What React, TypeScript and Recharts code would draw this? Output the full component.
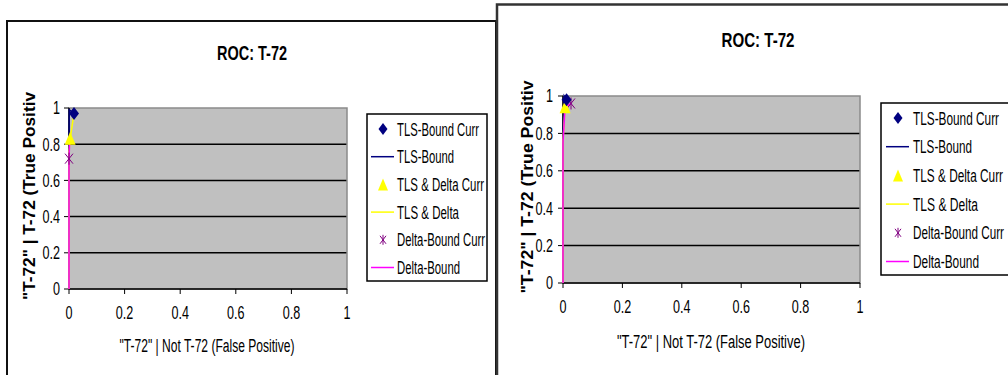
import { ScatterChart, Scatter, XAxis, YAxis, CartesianGrid, ReferenceArea } from 'recharts'

const TICKS = [0, 0.2, 0.4, 0.6, 0.8, 1]
const GRID_VALUES = [0.2, 0.4, 0.6, 0.8]
const TITLE = 'ROC: T-72'
const X_LABEL = '"T-72" | Not T-72 (False Positive)'
const Y_LABEL = '"T-72" | T-72 (True Positiv'
const LEGEND_NAMES = ['TLS-Bound Curr', 'TLS-Bound', 'TLS & Delta Curr', 'TLS & Delta', 'Delta-Bound Curr', 'Delta-Bound']

// left chart
const leftTlsBound = [{ x: 0, y: 0 }, { x: 0, y: 0.84 }, { x: 0.001, y: 0.99 }, { x: 0.018, y: 0.97 }]
const leftTlsDelta = [{ x: 0, y: 0 }, { x: 0, y: 0.76 }, { x: 0.004, y: 0.83 }, { x: 0.018, y: 0.97 }]
const leftDeltaBound = [{ x: 0, y: 0 }, { x: 0, y: 0.72 }, { x: 0.002, y: 0.8 }]
const leftTlsBoundCurr = [{ x: 0.018, y: 0.97 }]
const leftTlsDeltaCurr = [{ x: 0.004, y: 0.83 }]
const leftDeltaBoundCurr = [{ x: 0, y: 0.72 }]

// right chart
const rightTlsBound = [{ x: 0, y: 0 }, { x: 0, y: 0.77 }, { x: 0.004, y: 1 }, { x: 0.012, y: 0.98 }]
const rightTlsDelta = [{ x: 0, y: 0 }, { x: 0, y: 0.76 }, { x: 0.007, y: 0.94 }, { x: 0.012, y: 0.98 }]
const rightDeltaBound = [{ x: 0, y: 0 }, { x: 0, y: 0.75 }, { x: 0.007, y: 0.94 }, { x: 0.027, y: 0.96 }]
const rightTlsBoundCurr = [{ x: 0.012, y: 0.98 }]
const rightTlsDeltaCurr = [{ x: 0.007, y: 0.94 }]
const rightDeltaBoundCurr = [{ x: 0.027, y: 0.96 }]

const FONT = "'Liberation Sans', Arial, sans-serif"
const NAVY = '#000080'
const YELLOW = '#ffff00'
const MAGENTA = '#ff00ff'
const PURPLE = '#800080'

const Diamond = ({ cx, cy }: any) => (
  <polygon points={`${cx},${cy - 6.5} ${cx + 5},${cy} ${cx},${cy + 6.5} ${cx - 5},${cy}`} fill={NAVY} />
)
const Triangle = ({ cx, cy }: any) => (
  <polygon points={`${cx},${cy - 7} ${cx + 5.5},${cy + 6} ${cx - 5.5},${cy + 6}`} fill={YELLOW} />
)
const Star = ({ cx, cy }: any) => (
  <g stroke={PURPLE} strokeWidth={1}>
    <line x1={cx - 4} y1={cy - 5} x2={cx + 4} y2={cy + 5} />
    <line x1={cx + 4} y1={cy - 5} x2={cx - 4} y2={cy + 5} />
    <line x1={cx} y1={cy - 6} x2={cx} y2={cy + 6} />
  </g>
)
const NoDot = () => <g />

// condensed tick text (the original font is a narrow one)
const XTick = ({ x, y, payload }: any) => (
  <g transform={`translate(${x},${y}) scale(0.7,1)`}>
    <text x={0} y={0} dy="0.71em" textAnchor="middle" fontFamily={FONT} fontSize={18} fill="#000">
      {String(payload.value)}
    </text>
  </g>
)
const YTick = ({ x, y, payload }: any) => (
  <g transform={`translate(${x},${y}) scale(0.7,1)`}>
    <text x={0} y={0} dy="0.355em" textAnchor="end" fontFamily={FONT} fontSize={18} fill="#000">
      {String(payload.value)}
    </text>
  </g>
)

function RocChart({ layout, lines, marks }: any) {
  return (
    <div style={{ position: 'absolute', left: layout.left, top: layout.top }}>
      <ScatterChart width={layout.width} height={layout.height} margin={layout.margin}>
        <CartesianGrid vertical={false} horizontalValues={GRID_VALUES} stroke="#000" strokeWidth={1.5} fill="#c0c0c0" fillOpacity={1} />
        <ReferenceArea x1={0} x2={1} y1={0} y2={1} fill="none" stroke="#8a8a8a" strokeWidth={1.5} />
        <XAxis
          type="number"
          dataKey="x"
          domain={[0, 1]}
          ticks={TICKS}
          height={30}
          tickSize={5}
          tickMargin={12}
          axisLine={{ stroke: '#000', strokeWidth: 1.5 }}
          tickLine={{ stroke: '#000' }}
          tick={<XTick />}
        />
        <YAxis
          type="number"
          dataKey="y"
          domain={[0, 1]}
          ticks={TICKS}
          width={30}
          tickSize={5}
          tickMargin={layout.yTickMargin}
          axisLine={{ stroke: '#000', strokeWidth: 1.5 }}
          tickLine={{ stroke: '#000' }}
          tick={<YTick />}
        />
        <Scatter data={lines[0]} line={{ stroke: NAVY, strokeWidth: 1.5 }} shape={NoDot} isAnimationActive={false} />
        <Scatter data={lines[1]} line={{ stroke: YELLOW, strokeWidth: 1.5 }} shape={NoDot} isAnimationActive={false} />
        <Scatter data={lines[2]} line={{ stroke: MAGENTA, strokeWidth: 1.5 }} shape={NoDot} isAnimationActive={false} />
        <Scatter data={marks[2]} shape={Star} isAnimationActive={false} />
        <Scatter data={marks[1]} shape={Triangle} isAnimationActive={false} />
        <Scatter data={marks[0]} shape={Diamond} isAnimationActive={false} />
      </ScatterChart>
    </div>
  )
}

function Decor({ d }: any) {
  const icons = [
    (x: number, y: number) => <polygon points={`${x},${y - 6} ${x + 4.5},${y} ${x},${y + 6} ${x - 4.5},${y}`} fill={NAVY} />,
    (x: number, y: number) => <line x1={x - 12} x2={x + 11} y1={y} y2={y} stroke={NAVY} strokeWidth={1.5} />,
    (x: number, y: number) => <polygon points={`${x},${y - 6} ${x + 5},${y + 6} ${x - 5},${y + 6}`} fill={YELLOW} />,
    (x: number, y: number) => <line x1={x - 12} x2={x + 11} y1={y} y2={y} stroke={YELLOW} strokeWidth={1.5} />,
    (x: number, y: number) => (
      <g stroke={PURPLE} strokeWidth={1}>
        <line x1={x - 3} y1={y - 4} x2={x + 3} y2={y + 4} />
        <line x1={x + 3} y1={y - 4} x2={x - 3} y2={y + 4} />
        <line x1={x} y1={y - 5} x2={x} y2={y + 5} />
      </g>
    ),
    (x: number, y: number) => <line x1={x - 12} x2={x + 11} y1={y} y2={y} stroke={MAGENTA} strokeWidth={1.5} />,
  ]
  return (
    <g>
      <text x={d.titleX} y={d.titleY} textAnchor="middle" fontFamily={FONT} fontWeight="bold" fontSize={21} textLength={d.titleW} lengthAdjust="spacingAndGlyphs">
        {TITLE}
      </text>
      <text x={d.xLabelX} y={d.xLabelY} textAnchor="middle" fontFamily={FONT} fontSize={18} textLength={d.xLabelW} lengthAdjust="spacingAndGlyphs">
        {X_LABEL}
      </text>
      <text
        transform={`translate(${d.yLabelX},${d.yLabelY}) rotate(-90)`}
        textAnchor="middle"
        fontFamily={FONT}
        fontWeight="bold"
        fontSize={17}
        textLength={d.yLabelW}
        lengthAdjust="spacingAndGlyphs"
      >
        {Y_LABEL}
      </text>
      <rect x={d.legX} y={d.legY} width={d.legW} height={d.legH} fill="#fff" stroke="#000" strokeWidth={1.5} />
      {LEGEND_NAMES.map((name, i) => {
        const y = d.legY + d.legFirst + i * d.legStep
        return (
          <g key={name}>
            {icons[i](d.iconX, y)}
            <text x={d.textX} y={y + 6.5} fontFamily={FONT} fontSize={17.5} textLength={d.legTextW[i]} lengthAdjust="spacingAndGlyphs">
              {name}
            </text>
          </g>
        )
      })}
    </g>
  )
}

const LEFT_LAYOUT = { left: 7, top: 21, width: 489, height: 354, margin: { top: 87, right: 149, left: 32, bottom: 56 }, yTickMargin: 4 }
const RIGHT_LAYOUT = { left: 497, top: 5, width: 511, height: 370, margin: { top: 91, right: 148, left: 36, bottom: 62 }, yTickMargin: 5 }

const LEFT_DECOR = {
  titleX: 252, titleY: 60, titleW: 70,
  xLabelX: 207, xLabelY: 352, xLabelW: 175,
  yLabelX: 35, yLabelY: 196, yLabelW: 208,
  legX: 367, legY: 114, legW: 120, legH: 167, legFirst: 15, legStep: 27.7,
  iconX: 383, textX: 397, legTextW: [82, 57, 87, 62, 88, 63],
}
const RIGHT_DECOR = {
  titleX: 758, titleY: 47, titleW: 73,
  xLabelX: 711, xLabelY: 348, xLabelW: 188,
  yLabelX: 533, yLabelY: 187, yLabelW: 213,
  legX: 881, legY: 103, legW: 140, legH: 172, legFirst: 15, legStep: 28.7,
  iconX: 898, textX: 913, legTextW: [86, 59, 90, 65, 91, 66],
}

export default function App() {
  return (
    <div style={{ position: 'absolute', left: 0, top: 0, width: 1008, height: 375, background: '#fff', overflow: 'hidden' }}>
      <svg width={1008} height={375} style={{ position: 'absolute', left: 0, top: 0 }}>
        <rect x={7} y={21} width={489} height={380} fill="#fff" stroke="#111" strokeWidth={2} />
        <rect x={497} y={4.5} width={540} height={400} fill="#fff" stroke="#333" strokeWidth={2.5} />
      </svg>
      <RocChart
        layout={LEFT_LAYOUT}
        lines={[leftTlsBound, leftTlsDelta, leftDeltaBound]}
        marks={[leftTlsBoundCurr, leftTlsDeltaCurr, leftDeltaBoundCurr]}
      />
      <RocChart
        layout={RIGHT_LAYOUT}
        lines={[rightTlsBound, rightTlsDelta, rightDeltaBound]}
        marks={[rightTlsBoundCurr, rightTlsDeltaCurr, rightDeltaBoundCurr]}
      />
      <svg width={1008} height={375} style={{ position: 'absolute', left: 0, top: 0, pointerEvents: 'none' }}>
        <Decor d={LEFT_DECOR} />
        <Decor d={RIGHT_DECOR} />
      </svg>
    </div>
  )
}
